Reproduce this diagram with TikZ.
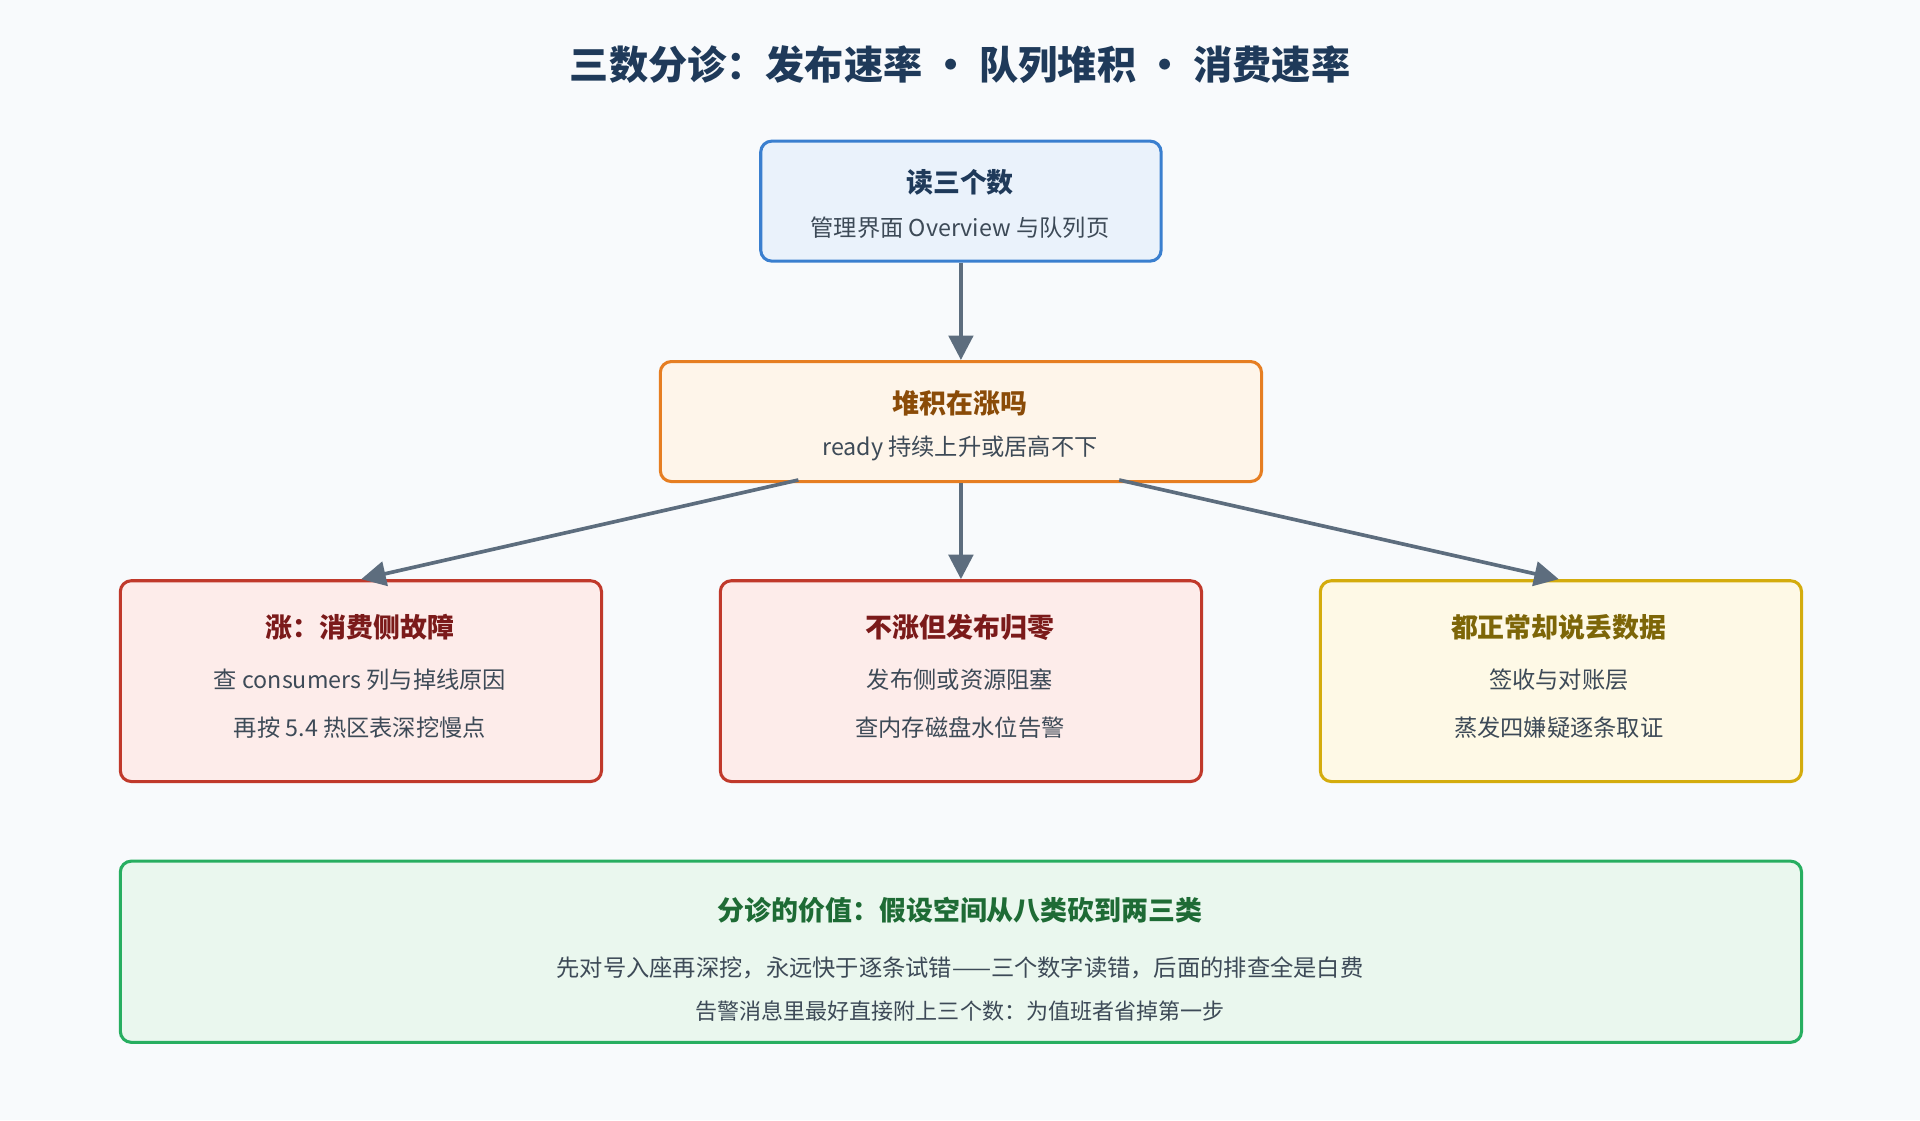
\documentclass[tikz,border=0pt]{standalone}
\usepackage{fontspec}
\setmainfont{Noto Sans CJK SC}
\usetikzlibrary{arrows.meta}
\definecolor{bg}{HTML}{F8FAFC}
\definecolor{navy}{HTML}{1F3A5A}
\definecolor{txt}{HTML}{3D4A57}
\definecolor{arr}{HTML}{5D6D7E}
\definecolor{bluD}{HTML}{3A7FCF}\definecolor{bluF}{HTML}{EAF2FB}
\definecolor{orD}{HTML}{E67E22}\definecolor{orF}{HTML}{FEF5EA}\definecolor{orT}{HTML}{8A4B08}
\definecolor{rdD}{HTML}{C0392B}\definecolor{rdF}{HTML}{FDECEA}\definecolor{rdT}{HTML}{7B1A1A}
\definecolor{ylD}{HTML}{D4AC0D}\definecolor{ylF}{HTML}{FEF9E6}\definecolor{ylT}{HTML}{7D6608}
\definecolor{gnD}{HTML}{27AE60}\definecolor{gnF}{HTML}{EAF7EE}\definecolor{gnT}{HTML}{1E6B35}
\tikzset{
 box/.style={draw, line width=2.5pt, rounded corners=9pt, anchor=north west, inner sep=0pt},
 ttl/.style={font=\fontsize{22}{26}\selectfont\bfseries},
 sub/.style={font=\fontsize{19}{22}\selectfont, text=txt},
 con/.style={draw=arr, line width=3pt, -{Triangle[length=20pt,width=20pt]}}
}
\begin{document}
\begin{tikzpicture}[x=1pt,y=-1pt]
\fill[bg] (0,0) rectangle (1568,915);
\useasboundingbox (0,0) rectangle (1568,915);
\node[font=\fontsize{32}{36}\selectfont\bfseries, text=navy] (title) at (784,53) {三数分诊：发布速率 • 队列堆积 • 消费速率};
\node[box, draw=bluD, fill=bluF, minimum width=327pt, minimum height=98pt] (b1) at (620,114) {};
\node[ttl, text=navy] (b1t) at (784,149) {读三个数};
\node[sub] (b1s) at (784,186) {管理界面 Overview 与队列页};
\node[box, draw=orD, fill=orF, minimum width=491pt, minimum height=98pt] (b2) at (538,294) {};
\node[ttl, text=orT] (b2t) at (784,329) {堆积在涨吗};
\node[sub] (b2s) at (784,366) {ready 持续上升或居高不下};
\node[box, draw=rdD, fill=rdF, minimum width=393pt, minimum height=164pt] (b3) at (97,473) {};
\node[ttl, text=rdT] (b3t) at (294,512) {涨：消费侧故障};
\node[sub] (b3a) at (294,555) {查 consumers 列与掉线原因};
\node[sub] (b3b) at (294,594) {再按 5.4 热区表深挖慢点};
\node[box, draw=rdD, fill=rdF, minimum width=393pt, minimum height=164pt] (b4) at (587,473) {};
\node[ttl, text=rdT] (b4t) at (784,512) {不涨但发布归零};
\node[sub] (b4a) at (784,555) {发布侧或资源阻塞};
\node[sub] (b4b) at (784,594) {查内存磁盘水位告警};
\node[box, draw=ylD, fill=ylF, minimum width=393pt, minimum height=164pt] (b5) at (1077,473) {};
\node[ttl, text=ylT] (b5t) at (1273,512) {都正常却说丢数据};
\node[sub] (b5a) at (1273,555) {签收与对账层};
\node[sub] (b5b) at (1273,594) {蒸发四嫌疑逐条取证};
\node[box, draw=gnD, fill=gnF, minimum width=1373pt, minimum height=148pt] (b6) at (97,702) {};
\node[ttl, text=gnT] (b6t) at (784,743) {分诊的价值：假设空间从八类砍到两三类};
\node[sub] (b6a) at (784,790) {先对号入座再深挖，永远快于逐条试错——三个数字读错，后面的排查全是白费};
\node[sub, font=\fontsize{18}{22}\selectfont] (b6b) at (784,826) {告警消息里最好直接附上三个数：为值班者省掉第一步};
\path[con] (b1.south) -- (b2.north);
\coordinate (s1) at (652,392); \coordinate (e1) at (295,473);
\coordinate (s3) at (914,392); \coordinate (e3) at (1273,473);
\path[con] (s1) -- (e1);
\path[con] (b2.south) -- (b4.north);
\path[con] (s3) -- (e3);
\end{tikzpicture}
\end{document}
